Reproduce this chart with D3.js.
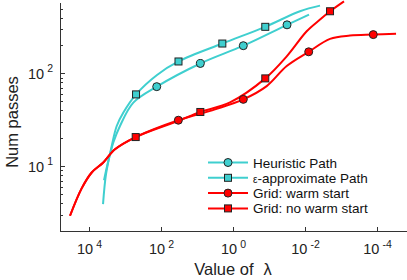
<!DOCTYPE html>
<html>

<head>
    <meta charset="utf-8">
    <title>Num passes</title>
    <script type="text/javascript" src="https://cdn.jsdelivr.net/npm/d3@7"></script>
    <style type="text/css">
        body {
            margin: 0;
            background: #fff;
        }

        svg {
            font-family: "Liberation Sans", Arial, sans-serif;
        }

        .axis path,
        .axis line {
            stroke: #333;
            stroke-width: 1px;
            shape-rendering: crispEdges;
        }

        .series {
            fill: none;
            stroke-width: 2px;
        }
    </style>
</head>

<body>

    <script type="text/javascript">
        // heuristic path (cyan, circles)
        var heurLambda = [3830, 2970, 2110, 1380, 587, 131.5, 8.09, 0.518, 0.0316, 0.00774];
        var heurPasses = [7.06, 11.0, 18.0, 27.1, 48.4, 72.0, 128, 199, 334, 431];
        var heurMarks = [5, 6, 7, 8];

        // epsilon-approximate path (cyan, squares)
        var epsLambda = [4080, 3370, 2340, 1700, 1110, 494, 129, 32.7, 1.98, 0.127, 0.0138, 0.00383];
        var epsPasses = [3.9, 8.2, 16.5, 27.1, 37.8, 59.4, 96.3, 134.5, 210, 318, 468, 538];
        var epsMarks = [5, 7, 8, 9];

        // grid with warm start (red, circles)
        var warmLambda = [33700, 16000, 8410, 4010, 1900, 505, 33.0, 3.16, 0.518, 0.116, 0.0322,
            0.00789, 0.00202, 0.000562, 0.000127, 0.0000296];
        var warmPasses = [2.92, 5.76, 8.55, 10.96, 15.2, 20.6, 31.3, 41.0, 52.5, 73, 120,
            171, 236, 256, 262, 267];
        var warmMarks = [6, 8, 11, 14];

        // grid without warm start (red, squares)
        var coldLambda = [33700, 16000, 8410, 4010, 1900, 505, 33.0, 8.09, 1.21, 0.127, 0.0322,
            0.00897, 0.00383, 0.00202, 0.000826];
        var coldPasses = [2.92, 5.76, 8.55, 10.96, 15.2, 20.6, 30.8, 38.4, 48.7, 88.4, 153,
            285, 381, 468, 599];
        var coldMarks = [5, 7, 9, 13];

        var legendNames = ["Heuristic Path", "-approximate Path", "Grid: warm start", "Grid: no warm start"];
        var xTicks = [1e4, 1e2, 1, 1e-2, 1e-4];
        var yTicks = [10, 100];

        var width = 407,
            height = 280,
            margins = {top: 2, left: 60, right: 0, bottom: 49};

        var cyan = "#3fcfcf",
            red = "#ff0000";

        var svg = d3.select("body").append("svg")
            .attr("width", width)
            .attr("height", height);

        var x = d3.scaleLog()
            .domain([Math.pow(10, 4.806), Math.pow(10, -4.833)])
            .range([margins.left, width - margins.right]);

        var y = d3.scaleLog()
            .domain([2, Math.pow(10, 2.77)])
            .range([height - margins.bottom, margins.top]);

        // minor y ticks
        var yMinor = [];
        [1, 10, 100].forEach(function (base) {
            for (var k = 2; k <= 9; k++) {
                var v = k * base;
                if (v >= 2 && v <= y.domain()[1]) yMinor.push(v);
            }
        });

        svg.append("g")
            .attr("class", "axis")
            .attr("transform", "translate(" + margins.left + ",0)")
            .call(d3.axisLeft(y).tickValues(yMinor).tickSize(-2.5).tickSizeOuter(0).tickFormat(""))
            .select(".domain").remove();

        var yAxis = svg.append("g")
            .attr("class", "axis")
            .attr("transform", "translate(" + margins.left + ",0)")
            .call(d3.axisLeft(y).tickValues(yTicks).tickSize(-4.5).tickSizeOuter(0).tickFormat(""));

        var xAxis = svg.append("g")
            .attr("class", "axis")
            .attr("transform", "translate(0," + (height - margins.bottom) + ")")
            .call(d3.axisBottom(x).tickValues(xTicks).tickSize(-4.5).tickSizeOuter(0).tickFormat(""));

        function powerLabel(sel, v) {
            var t = sel.append("text")
                .attr("fill", "#222")
                .style("font-size", "14.5px");
            t.append("tspan").text("10");
            t.append("tspan")
                .attr("dx", 3)
                .attr("dy", -6.5)
                .style("font-size", "10.5px")
                .text(Math.round(Math.log10(v)));
            return t;
        }

        yAxis.selectAll(".tick").each(function (d) {
            powerLabel(d3.select(this), d)
                .attr("x", -7)
                .attr("y", 5)
                .attr("text-anchor", "end");
        });

        xAxis.selectAll(".tick").each(function (d) {
            powerLabel(d3.select(this), d)
                .attr("x", 0)
                .attr("y", 23)
                .attr("text-anchor", "middle");
        });

        // axis titles
        svg.append("text")
            .attr("transform", "translate(18," + 122 + ") rotate(-90)")
            .attr("text-anchor", "middle")
            .attr("fill", "#222")
            .style("font-size", "16.5px")
            .text("Num passes");

        var xt = svg.append("text")
            .attr("x", x(1))
            .attr("y", 275)
            .attr("text-anchor", "middle")
            .attr("fill", "#222")
            .style("font-size", "16.5px");
        xt.append("tspan").text("Value of");
        xt.append("tspan").attr("dx", 10).text("λ");

        function seriesData(lam, passes) {
            return lam.map(function (l, i) {
                return {l: l, p: passes[i]};
            });
        }

        var line = d3.line()
            .x(function (d) { return x(d.l); })
            .y(function (d) { return y(d.p); })
            .curve(d3.curveCatmullRom.alpha(0.5));

        var series = [
            {data: seriesData(heurLambda, heurPasses), marks: heurMarks, color: cyan, shape: "circle"},
            {data: seriesData(epsLambda, epsPasses), marks: epsMarks, color: cyan, shape: "square"},
            {data: seriesData(warmLambda, warmPasses), marks: warmMarks, color: red, shape: "circle"},
            {data: seriesData(coldLambda, coldPasses), marks: coldMarks, color: red, shape: "square"}
        ];

        function drawMarker(g, shape, color, cx, cy) {
            if (shape === "circle") {
                g.append("circle")
                    .attr("cx", cx).attr("cy", cy).attr("r", 4)
                    .attr("fill", color)
                    .attr("stroke", "#222").attr("stroke-width", 1);
            } else {
                g.append("rect")
                    .attr("x", cx - 3.5).attr("y", cy - 3.5)
                    .attr("width", 7).attr("height", 7)
                    .attr("fill", color)
                    .attr("stroke", "#222").attr("stroke-width", 1);
            }
        }

        var plot = svg.append("g");

        series.forEach(function (s) {
            plot.append("path")
                .attr("class", "series")
                .attr("stroke", s.color)
                .attr("d", line(s.data));
        });

        series.forEach(function (s) {
            s.marks.forEach(function (i) {
                var d = s.data[i];
                drawMarker(plot, s.shape, s.color, x(d.l), y(d.p));
            });
        });

        // legend
        var legend = svg.append("g")
            .attr("transform", "translate(208,162.5)");

        series.forEach(function (s, i) {
            var row = legend.append("g")
                .attr("transform", "translate(0," + (i * 15.3) + ")");
            row.append("line")
                .attr("x1", 0).attr("x2", 40)
                .attr("stroke", s.color)
                .attr("stroke-width", 2);
            drawMarker(row, s.shape, s.color, 20, 0);
            var t = row.append("text")
                .attr("x", 45)
                .attr("y", 5)
                .attr("fill", "#111")
                .style("font-size", "13.5px");
            if (i === 1) {
                t.append("tspan").style("font-size", "10px").text("ε");
            }
            t.append("tspan").text(legendNames[i]);
        });
    </script>

</body>

</html>
